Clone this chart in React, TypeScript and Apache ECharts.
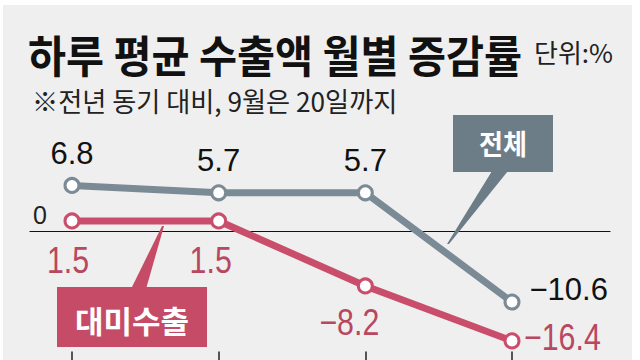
import React, { useEffect, useRef } from "react";
import * as echarts from "echarts";

const categories = ["6월", "7월", "8월", "9월"];
const totalValues = [6.8, 5.7, 5.7, -10.6];
const usValues = [1.5, 1.5, -8.2, -16.4];
const zeroTickLabel = "0";

const GRAY = "#7b8b95";
const GRAY_BOX = "#6d7d87";
const RED = "#c94e6c";
const RED_BOX = "#c64b67";
const RED_TEXT = "#b8475f";
const KR = "Noto Sans CJK KR";
const NUM = "Liberation Sans";

const fmtNum = (v: number) => (v < 0 ? "−" + Math.abs(v) : String(v));

export default function App() {
  const ref = useRef<HTMLDivElement>(null);
  useEffect(() => {
    document.body.style.margin = "0";
    const chart = echarts.init(ref.current!, null, { renderer: "svg" });

    const totalLabels = [
      { position: "top", distance: 8 },
      { position: "top", distance: 8 },
      { position: "top", distance: 8 },
      { position: "right", distance: 9, offset: [0, -13] },
    ];
    // red (대미수출) value labels: placed from the data point, condensed type
    const usLabelPlace = [
      { dx: -4, dy: 39, align: "center" },
      { dx: -8, dy: 39, align: "center" },
      { dx: -16, dy: 36, align: "center" },
      { dx: 12, dy: -4, align: "left" },
    ];

    const baseGraphics: any[] = [
      { type: "rect", z: -10, shape: { x: 3, y: 5, width: 629, height: 360 }, style: { fill: "#efefef" }, silent: true },
      {
        type: "text",
        x: 28,
        y: 53,
        scaleX: 0.94,
        style: { text: "하루 평균 수출액 월별 증감률", fontFamily: KR, fontWeight: "bold", fontSize: 44, fill: "#111", textVerticalAlign: "middle", textAlign: "left" },
      },
      {
        type: "text",
        x: 534,
        y: 51,
        style: { text: "단위:%", fontFamily: KR, fontSize: 26, fill: "#222", textVerticalAlign: "middle", textAlign: "left" },
      },
      {
        type: "text",
        x: 32,
        y: 100,
        scaleX: 0.97,
        style: { text: "※전년 동기 대비, 9월은 20일까지", fontFamily: KR, fontSize: 27, fill: "#222", textVerticalAlign: "middle", textAlign: "left" },
      },
      { type: "polygon", z: 20, shape: { points: [[492, 171], [508, 171], [449, 244], [447, 244]] }, style: { fill: GRAY_BOX } },
      { type: "rect", z: 21, shape: { x: 453, y: 115, width: 100, height: 57 }, style: { fill: GRAY_BOX } },
      {
        type: "text",
        z: 22,
        x: 503,
        y: 142,
        scaleX: 0.9,
        style: { text: "전체", fontFamily: KR, fontWeight: "bold", fontSize: 29, fill: "#fff", textAlign: "center", textVerticalAlign: "middle" },
      },
      { type: "polygon", z: 20, shape: { points: [[131, 289], [146, 289], [164, 226], [162, 226]] }, style: { fill: RED_BOX } },
      { type: "rect", z: 21, shape: { x: 57, y: 287, width: 150, height: 60 }, style: { fill: RED_BOX } },
      {
        type: "text",
        z: 22,
        x: 132,
        y: 319,
        style: { text: "대미수출", fontFamily: KR, fontWeight: "bold", fontSize: 31, fill: "#fff", textAlign: "center", textVerticalAlign: "middle" },
      },
    ];

    const option: any = {
      animation: false,
      backgroundColor: "#ffffff",
      grid: [
        { left: 72, right: 128, top: 164, bottom: 8.4 },
        { left: 30, right: 30, top: 164, bottom: 8.4 },
      ],
      xAxis: [
        {
          type: "category",
          gridIndex: 0,
          data: categories,
          boundaryGap: false,
          axisLine: { show: false, onZero: false },
          axisTick: { show: true, length: 14, lineStyle: { color: "#222", width: 1.5 } },
          axisLabel: { show: false },
          splitLine: { show: false },
        },
        {
          type: "value",
          gridIndex: 1,
          min: 0,
          max: 1,
          axisLine: { show: true, onZero: true, lineStyle: { color: "#111", width: 1.2 } },
          axisTick: { show: false },
          axisLabel: { show: false },
          splitLine: { show: false },
        },
      ],
      yAxis: [
        { type: "value", gridIndex: 0, min: -18, max: 10, show: false },
        {
          type: "value",
          gridIndex: 1,
          min: -18,
          max: 10,
          interval: 2,
          axisLine: { show: false },
          axisTick: { show: false },
          splitLine: { show: false },
          axisLabel: {
            inside: true,
            margin: 3,
            verticalAlign: "bottom",
            padding: [0, 0, 4, 0],
            color: "#222",
            fontFamily: NUM,
            fontSize: 25,
            formatter: (v: number) => (v === 0 ? zeroTickLabel : ""),
          },
        },
      ],
      graphic: baseGraphics,
      series: [
        {
          name: "전체",
          type: "line",
          xAxisIndex: 0,
          yAxisIndex: 0,
          z: 5,
          data: totalValues.map((v, i) => ({ value: v, label: { ...totalLabels[i] } })),
          lineStyle: { color: GRAY, width: 7 },
          itemStyle: { color: "#fff", borderColor: GRAY, borderWidth: 3 },
          symbol: "circle",
          symbolSize: 14,
          label: { show: true, color: "#111", fontFamily: NUM, fontSize: 31, formatter: (p: any) => fmtNum(p.value) },
        },
        {
          name: "대미수출",
          type: "line",
          xAxisIndex: 0,
          yAxisIndex: 0,
          z: 5,
          data: usValues,
          lineStyle: { color: RED, width: 7 },
          itemStyle: { color: "#fff", borderColor: RED, borderWidth: 3 },
          symbol: "circle",
          symbolSize: 14,
          label: { show: false },
        },
      ],
    };
    chart.setOption(option);

    const redTexts = usValues.map((v, i) => {
      const [px, py] = chart.convertToPixel({ xAxisIndex: 0, yAxisIndex: 0 }, [i, v]) as number[];
      const pl = usLabelPlace[i];
      return {
        type: "text",
        z: 15,
        x: px + pl.dx,
        y: py + pl.dy,
        scaleX: 0.82,
        style: { text: fmtNum(v), fontFamily: NUM, fontSize: 37, fill: RED_TEXT, textAlign: pl.align, textVerticalAlign: "middle" },
      };
    });
    chart.setOption({ graphic: [...baseGraphics, ...redTexts] });

    return () => chart.dispose();
  }, []);
  return <div ref={ref} style={{ position: "absolute", left: 0, top: 0, width: 640, height: 360 }} />;
}
